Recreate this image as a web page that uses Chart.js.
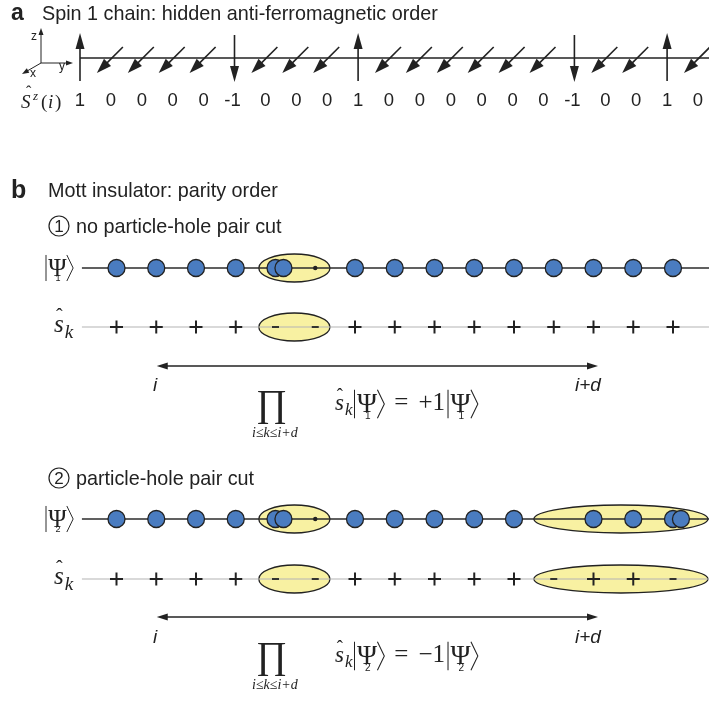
<!DOCTYPE html>
<html><head><meta charset="utf-8">
<script src="https://cdn.jsdelivr.net/npm/chart.js@4"></script>
<style>html,body{margin:0;padding:0;background:#fff}canvas{display:block}</style>
</head><body>
<canvas id="c" width="709" height="702"></canvas>
<script>
// ---------- Panel a data ----------
const spinSites  = [0,1,2,3,4,5,6,7,8,9,10,11,12,13,14,15,16,17,18,19,20];
const spinValues = [1,0,0,0,0,-1,0,0,0,1,0,0,0,0,0,0,-1,0,0,1,0];
const spinLabels = ['1','0','0','0','0','-1','0','0','0','1','0','0','0','0','0','0','-1','0','0','1','0'];
// ---------- Panel b data ----------
const chainSites = [0,1,2,3,4,5,6,7,8,9,10,11,12,13,14];
const occupancy1 = [1,1,1,1,2,0,1,1,1,1,1,1,1,1,1];
const occupancy2 = [1,1,1,1,2,0,1,1,1,1,1,0,1,1,2];
const holeDots1  = [5];
const holeDots2  = [5];
const parity1    = [1,1,1,1,-1,-1,1,1,1,1,1,1,1,1,1];
const parity2    = [1,1,1,1,-1,-1,1,1,1,1,1,-1,1,1,-1];
const pairSpans1 = [[3.58,5.37]];
const pairSpans2 = [[3.58,5.37],[10.5,14.88]];
const stringRange = [1,12];   // i .. i+d

// ---------- layout (pixels) ----------
const Y = {spin:58, spinLab:101, psi1:268, s1:327, arr1:366, ends1:386, prod1:410,
           psi2:519, s2:579, arr2:617, ends2:638, prod2:662};
const SANS = '"Liberation Sans", Arial, sans-serif';
const SERIF = '"Liberation Serif", "DejaVu Serif", serif';
const BLUE = '#4a7cc0', INK = '#222222', YEL = '#f8f1a2';

function pts(sites, y){ return sites.map(s => ({x:s, y:y})); }
function particles(occ, y){
  const back = [], front = [];
  occ.forEach((n,k)=>{ if(n>=1) back.push({x:k,y:y}); if(n===2) front.push({x:k+0.2,y:y}); });
  return back.concat(front);
}
function bySign(par, sign, y){ return chainSites.filter((k,i)=>par[i]===sign).map(k=>({x:k,y:y})); }

const lineDs = (y, color, w) => ({type:'line', xAxisID:'xb', yAxisID:'y', data:[{x:-0.87,y:y},{x:14.91,y:y}],
  borderColor:color, borderWidth:w, pointRadius:0, clip:false, order:5});
const partDs = (occ,y) => ({type:'scatter', xAxisID:'xb', yAxisID:'y', data:particles(occ,y),
  pointRadius:8.5, pointHoverRadius:8.5, backgroundColor:BLUE, borderColor:INK, borderWidth:1.3, clip:false, order:1});
const dotDs = (d,y) => ({type:'scatter', xAxisID:'xb', yAxisID:'y', data:pts(d,y),
  pointRadius:2.2, backgroundColor:INK, borderColor:INK, borderWidth:0, clip:false, order:1});
const plusDs = (par,y) => ({type:'scatter', xAxisID:'xb', yAxisID:'y', data:bySign(par,1,y),
  pointStyle:'cross', pointRadius:6.5, borderColor:INK, borderWidth:2, clip:false, order:1});
const minusDs = (par,y) => ({type:'scatter', xAxisID:'xb', yAxisID:'y', data:bySign(par,-1,y),
  pointStyle:'line', pointRadius:3.5, borderColor:INK, borderWidth:1.8, clip:false, order:1});

function arrowHead(ctx, x1,y1,x2,y2, len, hw){
  const a = Math.atan2(y2-y1, x2-x1);
  ctx.beginPath();
  ctx.moveTo(x2,y2);
  ctx.lineTo(x2 - len*Math.cos(a) + hw*Math.sin(a), y2 - len*Math.sin(a) - hw*Math.cos(a));
  ctx.lineTo(x2 - len*Math.cos(a) - hw*Math.sin(a), y2 - len*Math.sin(a) + hw*Math.cos(a));
  ctx.closePath(); ctx.fill();
}
function arrow(ctx,x1,y1,x2,y2,len,hw,lw){
  const a = Math.atan2(y2-y1, x2-x1);
  ctx.lineWidth = lw;
  ctx.beginPath(); ctx.moveTo(x1,y1); ctx.lineTo(x2-0.6*len*Math.cos(a), y2-0.6*len*Math.sin(a)); ctx.stroke();
  arrowHead(ctx,x1,y1,x2,y2,len,hw);
}

const ellipsePlugin = {
  id:'ellipses',
  beforeDatasetsDraw(chart){
    const ctx = chart.ctx, xb = chart.scales.xb, ys = chart.scales.y;
    const draw = (spans, y) => spans.forEach(([a,b])=>{
      const x1 = xb.getPixelForValue(a), x2 = xb.getPixelForValue(b), cy = ys.getPixelForValue(y);
      ctx.save(); ctx.beginPath();
      ctx.ellipse((x1+x2)/2, cy, (x2-x1)/2, 14, 0, 0, Math.PI*2);
      ctx.fillStyle = YEL; ctx.fill(); ctx.lineWidth = 1.3; ctx.strokeStyle = INK; ctx.stroke(); ctx.restore();
    });
    draw(pairSpans1, Y.psi1); draw(pairSpans1, Y.s1);
    draw(pairSpans2, Y.psi2); draw(pairSpans2, Y.s2);
  }
};

// ket |Psi_n> drawn with strokes for the brackets; cy = vertical centre
function ket(ctx, x, cy, n, size){
  const h = 0.62*size;
  ctx.save(); ctx.lineWidth = Math.max(0.9, size/22); ctx.strokeStyle = INK;
  ctx.beginPath(); ctx.moveTo(x+1, cy-h); ctx.lineTo(x+1, cy+h); ctx.stroke();
  const fs = size*1.18;
  ctx.font = fs + 'px ' + SERIF; ctx.textAlign='left'; ctx.textBaseline='alphabetic';
  const px = x + 0.15*size;
  ctx.fillText('\u03A8', px, cy + 0.36*size);
  const pw = ctx.measureText('\u03A8').width;
  ctx.font = Math.round(size*0.45) + 'px ' + SANS;
  ctx.fillText(n, px + pw*0.4, cy + 0.64*size);
  const bx = px + pw + 0.02*size;
  ctx.beginPath(); ctx.moveTo(bx, cy-h); ctx.lineTo(bx + 0.3*size, cy); ctx.lineTo(bx, cy+h); ctx.stroke();
  ctx.restore();
  return bx + 0.3*size - x;
}
function sk(ctx, x, baseY, size){
  ctx.font = 'italic ' + size + 'px ' + SERIF; ctx.textAlign='left'; ctx.textBaseline='alphabetic';
  ctx.fillText('s', x, baseY);
  const w = ctx.measureText('s').width;
  ctx.font = size*0.8 + 'px ' + SERIF; ctx.fillText('\u02C6', x + w*0.2, baseY - size*0.38);
  ctx.font = 'italic ' + Math.round(size*0.75) + 'px ' + SERIF; ctx.fillText('k', x + w + 1, baseY + size*0.22);
  return w + 1 + ctx.measureText('k').width;
}

const annotPlugin = {
  id:'annot',
  afterDatasetsDraw(chart){
    const ctx = chart.ctx, xa = chart.scales.xa, xb = chart.scales.xb, ys = chart.scales.y;
    ctx.save();
    ctx.fillStyle = INK; ctx.strokeStyle = INK;
    // ---- panel a chain ----
    const yc = ys.getPixelForValue(Y.spin);
    ctx.lineWidth = 1.6; ctx.beginPath();
    ctx.moveTo(xa.getPixelForValue(spinSites[0]), yc); ctx.lineTo(709, yc); ctx.stroke();
    spinSites.forEach((s,i)=>{
      const px = xa.getPixelForValue(s), v = spinValues[i];
      if (v === 1) arrow(ctx, px, 81, px, 33, 16, 4.5, 1.6);
      else if (v === -1) arrow(ctx, px, 35, px, 82, 16, 4.5, 1.6);
      else arrow(ctx, px+12, 47, px-14, 73, 15, 5, 1.6);
      ctx.font = '18.5px ' + SANS; ctx.textAlign = 'center'; ctx.textBaseline = 'middle';
      ctx.fillText(spinLabels[i], px - (v===-1?2:0), ys.getPixelForValue(Y.spinLab));
    });
    // axes glyph
    arrow(ctx, 41, 63, 41, 28, 7, 2.5, 1);
    arrow(ctx, 41, 63, 73, 63, 7, 2.5, 1);
    arrow(ctx, 41, 63, 22, 74, 7, 2.5, 1);
    ctx.font = '12px ' + SANS; ctx.textAlign='center'; ctx.textBaseline='middle';
    ctx.fillText('z', 34, 37); ctx.fillText('y', 62, 67); ctx.fillText('x', 33, 74);

    // ---- double arrows ----
    [Y.arr1, Y.arr2].forEach(y=>{
      const x1 = xb.getPixelForValue(stringRange[0]) + 0.5, x2 = xb.getPixelForValue(stringRange[1]) + 4.5;
      ctx.lineWidth = 1.4; ctx.beginPath(); ctx.moveTo(x1+5,y); ctx.lineTo(x2-5,y); ctx.stroke();
      arrowHead(ctx, x2, y, x1, y, 11, 3.5); arrowHead(ctx, x1, y, x2, y, 11, 3.5);
    });

    // ---- text ----
    ctx.textAlign = 'left'; ctx.textBaseline = 'alphabetic';
    ctx.font = 'bold 23px ' + SANS; ctx.fillText('a', 11, 20);
    ctx.font = '19.8px ' + SANS; ctx.fillText('Spin 1 chain: hidden anti-ferromagnetic order', 42, 20);
    ctx.font = 'bold 25px ' + SANS; ctx.fillText('b', 11, 198);
    ctx.font = '19.8px ' + SANS; ctx.fillText('Mott insulator: parity order', 48, 197);
    // circled numbers
    [[1, 226, 'no particle-hole pair cut'], [2, 478, 'particle-hole pair cut']].forEach(([n,y,t])=>{
      ctx.lineWidth = 1.2; ctx.beginPath(); ctx.arc(59, y, 10, 0, Math.PI*2); ctx.stroke();
      ctx.font = '17px ' + SANS; ctx.textAlign='center'; ctx.textBaseline='alphabetic';
      ctx.fillText(String(n), 59, y+6);
      ctx.font = '19.8px ' + SANS; ctx.textAlign='left';
      ctx.fillText(t, 76, y+7);
    });
    // S^z(i)
    ctx.textBaseline = 'alphabetic'; ctx.textAlign = 'left';
    ctx.font = 'italic 19px ' + SERIF; ctx.fillText('S', 21, 108);
    ctx.font = '16px ' + SERIF; ctx.fillText('\u02C6', 26, 97);
    ctx.font = 'italic 13px ' + SERIF; ctx.fillText('z', 33, 100);
    ctx.font = '19px ' + SERIF; ctx.fillText('(', 41, 108);
    ctx.font = 'italic 19px ' + SERIF; ctx.fillText('i', 48, 108);
    ctx.font = '19px ' + SERIF; ctx.fillText(')', 55, 108);

    // row labels
    ket(ctx, 45, Y.psi1, '1', 21);
    ket(ctx, 45, Y.psi2, '2', 21);
    sk(ctx, 54, Y.s1 + 5, 25);
    sk(ctx, 54, Y.s2 + 5, 25);

    // i, i+d
    [Y.ends1, Y.ends2].forEach(y => {
      ctx.font = 'italic 19px ' + SANS; ctx.textAlign='left'; ctx.textBaseline='middle';
      ctx.fillText('i', 153, y);
      ctx.fillText('i+d', 575, y);
    });
    // product formulas
    [[Y.prod1, '1', '+1'], [Y.prod2, '2', '\u22121']].forEach(([y, n, v]) => {
      ctx.textBaseline='alphabetic'; ctx.textAlign='left';
      ctx.font = '38px ' + SERIF; ctx.fillText('\u220F', 256, y + 6);
      ctx.font = 'italic 14px ' + SERIF; ctx.fillText('i\u2264k\u2264i+d', 252, y + 27);
      let x = 335;
      x += sk(ctx, x, y, 23) + 1;
      x += ket(ctx, x, y - 6, n, 23) + 10;
      ctx.font = '25px ' + SERIF; ctx.fillText('=', x, y); x += ctx.measureText('=').width + 10;
      ctx.fillText(v, x, y); x += ctx.measureText(v).width + 2;
      ket(ctx, x, y - 6, n, 23);
    });
    ctx.restore();
  }
};

new Chart(document.getElementById('c'), {
  data: {
    datasets: [
      lineDs(Y.psi1, '#2b2b2b', 1.5), lineDs(Y.s1, '#b3b3b3', 1.2),
      lineDs(Y.psi2, '#2b2b2b', 1.5), lineDs(Y.s2, '#b3b3b3', 1.2),
      partDs(occupancy1, Y.psi1), dotDs(holeDots1, Y.psi1),
      partDs(occupancy2, Y.psi2), dotDs(holeDots2, Y.psi2),
      plusDs(parity1, Y.s1), minusDs(parity1, Y.s1),
      plusDs(parity2, Y.s2), minusDs(parity2, Y.s2)
    ]
  },
  options: {
    responsive:false, animation:false, devicePixelRatio:1,
    layout:{padding:0, autoPadding:false},
    plugins:{legend:{display:false}, tooltip:{enabled:false}},
    events:[],
    scales:{
      xa:{type:'linear', display:false, min:-80/30.9, max:(709-80)/30.9},
      xb:{type:'linear', display:false, min:-116.5/39.75, max:(709-116.5)/39.75},
      y:{type:'linear', display:false, min:0, max:702, reverse:true}
    }
  },
  plugins:[ellipsePlugin, annotPlugin]
});
</script>
</body></html>
